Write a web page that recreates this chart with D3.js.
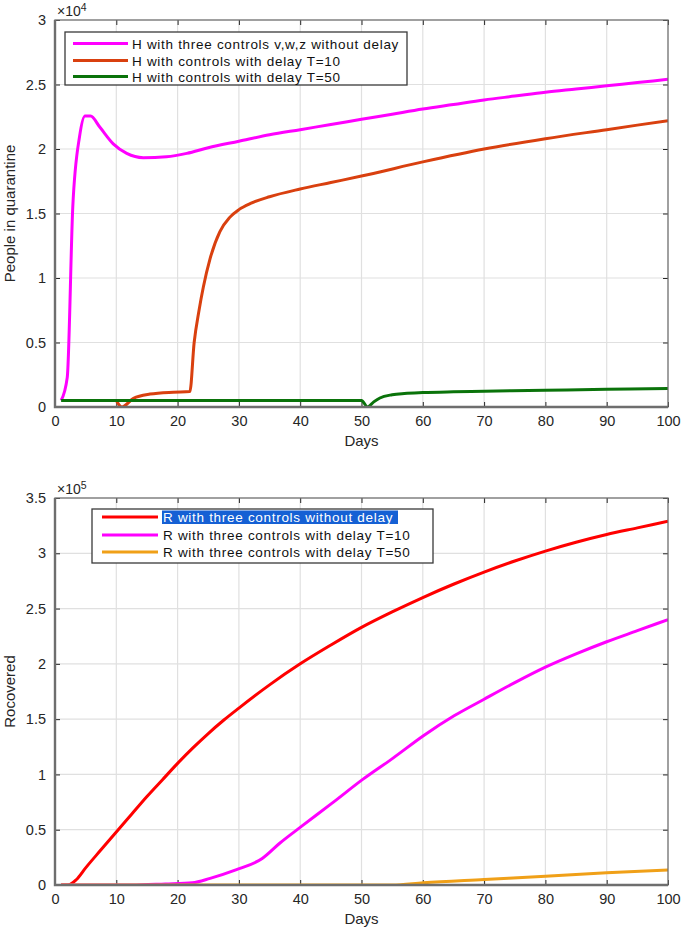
<!DOCTYPE html>
<html><head><meta charset="utf-8">
<script src="https://cdn.jsdelivr.net/npm/d3@7"></script>
<style>
html,body{margin:0;padding:0;background:#fff;}
svg{display:block;font-family:"Liberation Sans",Arial,Helvetica,sans-serif;}
</style></head>
<body>
<svg id="c" width="683" height="931"></svg>
<script>
// ---------- data ----------
const xTicks = [0,10,20,30,40,50,60,70,80,90,100];
const yTicksTop = [0,0.5,1,1.5,2,2.5,3];
const yTicksBot = [0,0.5,1,1.5,2,2.5,3,3.5];
const yTickLabelsTop = ["0","0.5","1","1.5","2","2.5","3"];
const yTickLabelsBot = ["0","0.5","1","1.5","2","2.5","3","3.5"];

// Top panel: H (x 1e4)
const hNoDelayDays = [1,2,2.9,4,4.9,5.8,7.3,9.5,11.7,14.4,18.2,21.5,25,30,35,40,45,50,55,60,65,70,75,80,85,90,95,100];
const hNoDelayVals = [0.05,0.23,1.55,2.095,2.256,2.256,2.17,2.04,1.966,1.933,1.94,1.966,2.01,2.06,2.11,2.15,2.19,2.23,2.27,2.31,2.345,2.38,2.41,2.44,2.465,2.49,2.515,2.54];
const hT10Days = [10,10.9,12.8,15.5,19.3,22,22.7,23.5,24.2,25.3,26.9,28.5,30,32,35,40,45,50,60,70,80,90,100];
const hT10Vals = [0.05,0.0,0.067,0.10,0.115,0.12,0.5,0.75,0.93,1.15,1.36,1.47,1.53,1.58,1.63,1.69,1.74,1.79,1.90,2.0,2.08,2.15,2.22];
const hT50Days = [1,10,20,30,40,50,51,52,53,55,57,60,65,70,80,90,100];
const hT50Vals = [0.05,0.05,0.05,0.05,0.05,0.05,0.0,0.04,0.07,0.095,0.105,0.112,0.118,0.122,0.13,0.137,0.143];

// Bottom panel: R (x 1e5)
const rNoDelayDays = [1,2.1,3.5,5,7.5,10,12.5,15,17.5,20,22.5,25,27.5,30,35,40,45,50,55,60,65,70,75,80,85,90,95,100];
const rNoDelayVals = [0,0,0.05,0.155,0.318,0.48,0.64,0.80,0.95,1.1,1.24,1.37,1.49,1.6,1.81,2.0,2.17,2.33,2.47,2.6,2.72,2.83,2.93,3.02,3.10,3.17,3.23,3.29];
const rT10Days = [1,12.5,18,22.4,25.3,29.5,33.8,36.7,40.2,45.2,50.2,55.2,60.1,65.1,70,75,80,85,90,95,100];
const rT10Vals = [0,0,0.01,0.02,0.06,0.136,0.24,0.38,0.53,0.74,0.955,1.15,1.35,1.53,1.68,1.83,1.97,2.09,2.2,2.3,2.4];
const rT50Days = [1,20,40,55,60.1,70,80,90,100];
const rT50Vals = [0,0,0,0,0.02,0.05,0.08,0.11,0.135];

const topLegend = ["H with three controls v,w,z without delay","H with controls with delay T=10","H with controls with delay T=50"];
const botLegend = ["R with three controls without delay","R with three controls with delay T=10","R with three controls with delay T=50"];
const topColors = ["#ff00ff","#d9400f","#0a730a"];
const botColors = ["#ff0000","#ff00ff","#f0a018"];

// ---------- drawing ----------
const svg = d3.select("#c");
const X0 = 55, X1 = 668;

function panel(cfg){
  const g = svg.append("g");
  const x = d3.scaleLinear().domain([0,100]).range([X0,X1]);
  const y = d3.scaleLinear().domain([0,cfg.ymax]).range([cfg.yb,cfg.yt]);
  // grid
  g.append("g").selectAll("line.vx").data(xTicks.slice(1,-1)).join("line")
    .attr("x1",d=>x(d)).attr("x2",d=>x(d)).attr("y1",cfg.yt).attr("y2",cfg.yb)
    .attr("stroke","#e0e0e0").attr("stroke-width",1.2);
  g.append("g").selectAll("line.hy").data(cfg.yticks.slice(1,-1)).join("line")
    .attr("x1",X0).attr("x2",X1).attr("y1",d=>y(d)).attr("y2",d=>y(d))
    .attr("stroke","#e0e0e0").attr("stroke-width",1.2);
  // axes via d3.axis
  const ax = g.append("g").attr("transform",`translate(0,${cfg.yb})`)
    .call(d3.axisBottom(x).tickValues(xTicks).tickSize(-5).tickPadding(9).tickFormat(d3.format("d")));
  const axT = g.append("g").attr("transform",`translate(0,${cfg.yt})`)
    .call(d3.axisTop(x).tickValues(xTicks).tickSize(-5).tickFormat(""));
  const ay = g.append("g").attr("transform",`translate(${X0},0)`)
    .call(d3.axisLeft(y).tickValues(cfg.yticks).tickSize(-5).tickPadding(9).tickFormat((d,i)=>cfg.ylabels[i]));
  const ayR = g.append("g").attr("transform",`translate(${X1},0)`)
    .call(d3.axisRight(y).tickValues(cfg.yticks).tickSize(-5).tickFormat(""));
  [ax,axT,ay,ayR].forEach(a=>{
    a.select(".domain").remove();
    a.selectAll(".tick line").attr("stroke","#262626").attr("stroke-width",1);
    a.selectAll(".tick text").attr("fill","#262626").attr("font-size",14.5)
      .attr("font-family","'Liberation Sans',Arial,sans-serif");
  });
  // series
  const line = d3.line().x(d=>x(d[0])).y(d=>y(d[1])).curve(d3.curveMonotoneX);
  const clip = "clip"+cfg.id;
  svg.append("clipPath").attr("id",clip).append("rect")
    .attr("x",X0).attr("y",cfg.yt).attr("width",X1-X0).attr("height",cfg.yb-cfg.yt);
  cfg.series.forEach((s,i)=>{
    g.append("path").datum(s[0].map((d,k)=>[d,s[1][k]]))
      .attr("d",line).attr("fill","none").attr("stroke",cfg.colors[i])
      .attr("stroke-width",3).attr("stroke-linejoin","round")
      .attr("clip-path",`url(#${clip})`);
  });
  // box
  g.append("rect").attr("x",X0).attr("y",cfg.yt).attr("width",X1-X0).attr("height",cfg.yb-cfg.yt)
    .attr("fill","none").attr("stroke","#6e6e6e").attr("stroke-width",1.3);
  g.append("path").attr("d",`M${X0},${cfg.yt}V${cfg.yb}H${X1}`)
    .attr("fill","none").attr("stroke","#6e6e6e").attr("stroke-width",2.4);
  // exponent
  const ex = g.append("text").attr("x",X0+2).attr("y",cfg.yt-4).attr("font-size",14).attr("fill","#262626");
  ex.append("tspan").text("\u00d710");
  ex.append("tspan").attr("dy",-5).attr("font-size",10.5).text(cfg.exp);
  // labels
  g.append("text").attr("x",(X0+X1)/2).attr("y",cfg.yb+39).attr("text-anchor","middle")
    .attr("font-size",15).attr("fill","#262626").text("Days");
  g.append("text").attr("transform",`translate(15,${(cfg.yt+cfg.yb)/2}) rotate(-90)`)
    .attr("text-anchor","middle").attr("font-size",15).attr("fill","#262626").text(cfg.ylabel);
  // legend
  const L = cfg.legend;
  g.append("rect").attr("x",L.x).attr("y",L.y).attr("width",L.w).attr("height",L.h)
    .attr("fill","#fff").attr("stroke","#3a3a3a").attr("stroke-width",1.3);
  cfg.names.forEach((n,i)=>{
    const yy = L.rows[i];
    g.append("line").attr("x1",L.lx0).attr("x2",L.lx1).attr("y1",yy).attr("y2",yy)
      .attr("stroke",cfg.colors[i]).attr("stroke-width",3);
    if(cfg.highlight===i){
      g.append("rect").attr("x",L.tx+1).attr("y",yy-6.5).attr("width",L.hw).attr("height",13.5).attr("fill","#1560d4");
    }
    g.append("text").attr("x",L.tx+2).attr("y",yy+5).attr("font-size",13.5)
      .attr("letter-spacing","0.7px")
      .attr("fill",cfg.highlight===i?"#fff":"#111").text(n);
  });
}

panel({id:"t",yt:20,yb:407,ymax:3,yticks:yTicksTop,ylabels:yTickLabelsTop,exp:"4",
  ylabel:"People in quarantine",colors:topColors,names:topLegend,
  series:[[hNoDelayDays,hNoDelayVals],[hT10Days,hT10Vals],[hT50Days,hT50Vals]],
  legend:{x:65,y:32,w:342,h:53,rows:[43.5,60.5,76.5],lx0:73,lx1:128,tx:130}});
panel({id:"b",yt:498,yb:885,ymax:3.5,yticks:yTicksBot,ylabels:yTickLabelsBot,exp:"5",
  ylabel:"Rocovered",colors:botColors,names:botLegend,highlight:0,
  series:[[rNoDelayDays,rNoDelayVals],[rT10Days,rT10Vals],[rT50Days,rT50Vals]],
  legend:{x:92,y:509,w:341,h:54,rows:[517,535,552],lx0:102,lx1:158,tx:161,hw:236}});
</script>
</body></html>
